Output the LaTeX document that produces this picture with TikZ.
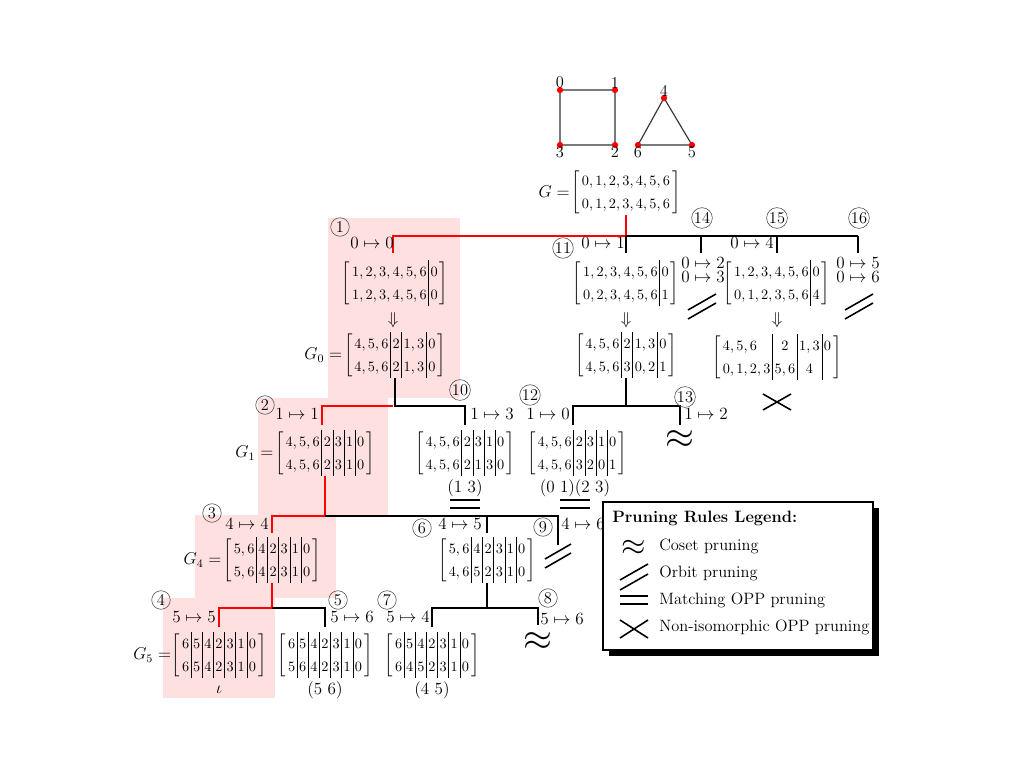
\documentclass[tikz,border=0pt]{standalone}
\usepackage{amsmath,graphicx}
\begin{document}
\newcommand\mat[3]{$\setlength\arraycolsep{1.4pt}\renewcommand\arraystretch{1.35}\left[\begin{array}{#1}#2\\#3\end{array}\right]$}
\newcommand\labfont{\fontsize{11.5}{13}\selectfont}
\begin{tikzpicture}[x=0.7pt,y=-0.7pt,
  mx/.style={inner sep=0pt,font=\normalsize},
  lab/.style={inner sep=0pt,font=\labfont},
  cnum/.style={circle,draw=black!70,thin,inner sep=0.3pt,minimum size=13pt,font=\labfont},
  blk/.style={line width=1.4pt},
  rd/.style={line width=1.4pt,red},
  pr/.style={line width=1.1pt}]
\useasboundingbox (0,0) rectangle (1024,768);
% shading
\fill[red!12] (328,218) rectangle (460,398);
\fill[red!12] (258,398) rectangle (388,515);
\fill[red!12] (195,515) rectangle (336,598);
\fill[red!12] (163,598) rectangle (275,698);
% graph
\foreach \n/\x/\y in {g0/560/90,g1/615/90,g3/560/145,g2/615/145,g4/664/98,g6/638/145,g5/692/145}
  \coordinate (\n) at (\x,\y);
\draw[thick,black!80] (g0)--(g1)--(g2)--(g3)--(g0) (g4)--(g5)--(g6)--(g4);
\foreach \n in {g0,g1,g2,g3,g4,g5,g6} \fill[red] (\n) circle (2.2pt);
\node[lab,above=1pt] at (g0) {0}; \node[lab,above=1pt] at (g1) {1};
\node[lab,above=1pt] at (g4) {4};
\node[lab,below=1pt] at (g3) {3}; \node[lab,below=1pt] at (g2) {2};
\node[lab,below=1pt] at (g6) {6}; \node[lab,below=1pt] at (g5) {5};
% root
\node[mx] (G) at (626,192) {\mat{c}{0,1,2,3,4,5,6}{0,1,2,3,4,5,6}};
\node[lab,left=1pt] at (G.west) {$G=$};
\coordinate (r) at (626,236);
\draw[rd] (G.south) -- (r) -- (393,236) -- (393,253);
\draw[blk] (r) -- (858,236);
% branch 1
\node[cnum] at (340,227) {1};
\node[lab] at (372,243) {$0\mapsto 0$};
\node[mx] (m1) at (395,283) {\mat{l|c}{1,2,3,4,5,6&0}{1,2,3,4,5,6&0}};
\node[lab] at (393,320) {$\Downarrow$};
\node[mx] (G0) at (395,355) {\mat{l|c|c|c}{4,5,6&2&1,3&0}{4,5,6&2&1,3&0}};
\node[lab,left=1pt] at (G0.west) {$G_0=$};
% branch 11
\draw[blk] (626,236) -- (626,253);
\node[cnum] at (563,248) {11};
\node[lab] at (603,243) {$0\mapsto 1$};
\node[mx] (m11) at (626,283) {\mat{l|c}{1,2,3,4,5,6&0}{0,2,3,4,5,6&1}};
\node[lab] at (626,320) {$\Downarrow$};
\node[mx] (m11b) at (626,355) {\mat{l|c|c|c}{4,5,6&2&1,3&0}{4,5,6&3&0,2&1}};
% branch 14
\draw[blk] (701,236) -- (701,253);
\node[cnum] at (702,218) {14};
\node[lab,align=center] at (703,270) {$0\mapsto 2$\\[-3pt]$0\mapsto 3$};
\draw[pr] (688,310)--(716,294) (688,319)--(716,303);
% branch 15
\draw[blk] (777,236) -- (777,253);
\node[cnum] at (777,218) {15};
\node[lab] at (752,243) {$0\mapsto 4$};
\node[mx] (m15) at (777,283) {\mat{l|c}{1,2,3,4,5,6&0}{0,1,2,3,5,6&4}};
\node[lab] at (777,320) {$\Downarrow$};
\node[mx] (m15b) at (777,357) {\mat{l|c|c|c}{4,5,6&2&1,3&0}{0,1,2,3&5,6&4}};
\draw[pr] (763,394)--(791,410) (763,410)--(791,394);
% branch 16
\draw[blk] (858,236) -- (858,253);
\node[cnum] at (859,218) {16};
\node[lab,align=center] at (858,270) {$0\mapsto 5$\\[-3pt]$0\mapsto 6$};
\draw[pr] (845,310)--(873,294) (845,319)--(873,303);
% level 2 left
\draw[blk] (G0.south) |- (465,406) -- (465,425);
\draw[rd] (393,406) -- (322,406) -- (322,425);
\node[cnum] at (265,405) {2};
\node[lab] at (297,414) {$1\mapsto 1$};
\node[mx] (G1) at (325,453) {\mat{l|c|c|c|c}{4,5,6&2&3&1&0}{4,5,6&2&3&1&0}};
\node[lab,left=1pt] at (G1.west) {$G_1=$};
\node[cnum] at (460,390) {10};
\node[lab] at (492,414) {$1\mapsto 3$};
\node[mx] (m10) at (465,453) {\mat{l|c|c|c|c}{4,5,6&2&3&1&0}{4,5,6&2&1&3&0}};
\node[lab] at (465,488) {$(1\ 3)$};
\draw[pr] (450,500)--(480,500) (450,508)--(480,508);
% level 2 right
\draw[blk] (m11b.south) -- (626,406);
\draw[blk] (573,425) -- (573,406) -- (680,406) -- (680,425);
\node[cnum] at (530,395) {12};
\node[lab] at (548,414) {$1\mapsto 0$};
\node[mx] (m12) at (577,453) {\mat{l|c|c|c|c}{4,5,6&2&3&1&0}{4,5,6&3&2&0&1}};
\node[lab] at (575,488) {$(0\ 1)(2\ 3)$};
\draw[pr] (560,500)--(590,500) (560,508)--(590,508);
\node[cnum] at (685,397) {13};
\node[lab] at (706,414) {$1\mapsto 2$};
\node[inner sep=0pt] at (680,440) {\scalebox{2.6}{$\approx$}};
% level 3
\draw[rd] (G1.south) -- (325,516) -- (272,516) -- (272,533);
\draw[blk] (325,516) -- (558,516) -- (558,545);
\draw[blk] (487,516) -- (487,533);
\node[cnum] at (212,513) {3};
\node[lab] at (247,524) {$4\mapsto 4$};
\node[mx] (G4) at (272,560) {\mat{l|c|c|c|c|c}{5,6&4&2&3&1&0}{5,6&4&2&3&1&0}};
\node[lab,left=1pt] at (G4.west) {$G_4=$};
\node[cnum] at (422,528) {6};
\node[lab] at (460,524) {$4\mapsto 5$};
\node[mx] (m6) at (487,560) {\mat{l|c|c|c|c|c}{5,6&4&2&3&1&0}{4,6&5&2&3&1&0}};
\node[cnum] at (543,527) {9};
\node[lab] at (583,524) {$4\mapsto 6$};
\draw[pr] (545,559)--(571,544) (545,568)--(571,553);
% level 4
\draw[rd] (G4.south) -- (272,608) -- (219,608) -- (219,627);
\draw[blk] (272,608) -- (325,608) -- (325,627);
\node[cnum] at (161,600) {4};
\node[lab] at (194,617) {$5\mapsto 5$};
\node[mx] (G5) at (219,655) {\mat{c|c|c|c|c|c|c}{6&5&4&2&3&1&0}{6&5&4&2&3&1&0}};
\node[lab,left=0pt] at (G5.west) {$G_5=$};
\node[lab] at (219,690) {$\iota$};
\node[cnum] at (338,600) {5};
\node[lab] at (352,617) {$5\mapsto 6$};
\node[mx] (m5) at (325,655) {\mat{c|c|c|c|c|c|c}{6&5&4&2&3&1&0}{5&6&4&2&3&1&0}};
\node[lab] at (325,690) {$(5\ 6)$};
\draw[blk] (m6.south) -- (487,608);
\draw[blk] (432,627) -- (432,608) -- (538,608) -- (538,625);
\node[cnum] at (387,600) {7};
\node[lab] at (408,617) {$5\mapsto 4$};
\node[mx] (m7) at (432,655) {\mat{c|c|c|c|c|c|c}{6&5&4&2&3&1&0}{6&4&5&2&3&1&0}};
\node[lab] at (432,690) {$(4\ 5)$};
\node[cnum] at (548,598) {8};
\node[lab] at (562,619) {$5\mapsto 6$};
\node[inner sep=0pt] at (538,642) {\scalebox{2.6}{$\approx$}};
% legend
\fill[black] (609,508) rectangle (879,656);
\draw[thick,fill=white] (603,502) rectangle (873,650);
\node[anchor=west,inner sep=0pt,font=\labfont] at (612,518) {\textbf{Pruning Rules Legend:}};
\node[inner sep=0pt] at (634,548) {\scalebox{2.2}{$\approx$}};
\draw[pr] (620,580)--(648,564) (620,590)--(648,574);
\draw[pr] (620,596)--(648,596) (620,604)--(648,604);
\draw[pr] (620,620)--(648,638) (620,638)--(648,620);
\node[anchor=west,inner sep=0pt,font=\labfont] at (659,546) {Coset pruning};
\node[anchor=west,inner sep=0pt,font=\labfont] at (659,573) {Orbit pruning};
\node[anchor=west,inner sep=0pt,font=\labfont] at (659,600) {Matching OPP pruning};
\node[anchor=west,inner sep=0pt,font=\labfont] at (659,627) {Non-isomorphic OPP pruning};
\end{tikzpicture}
\end{document}
